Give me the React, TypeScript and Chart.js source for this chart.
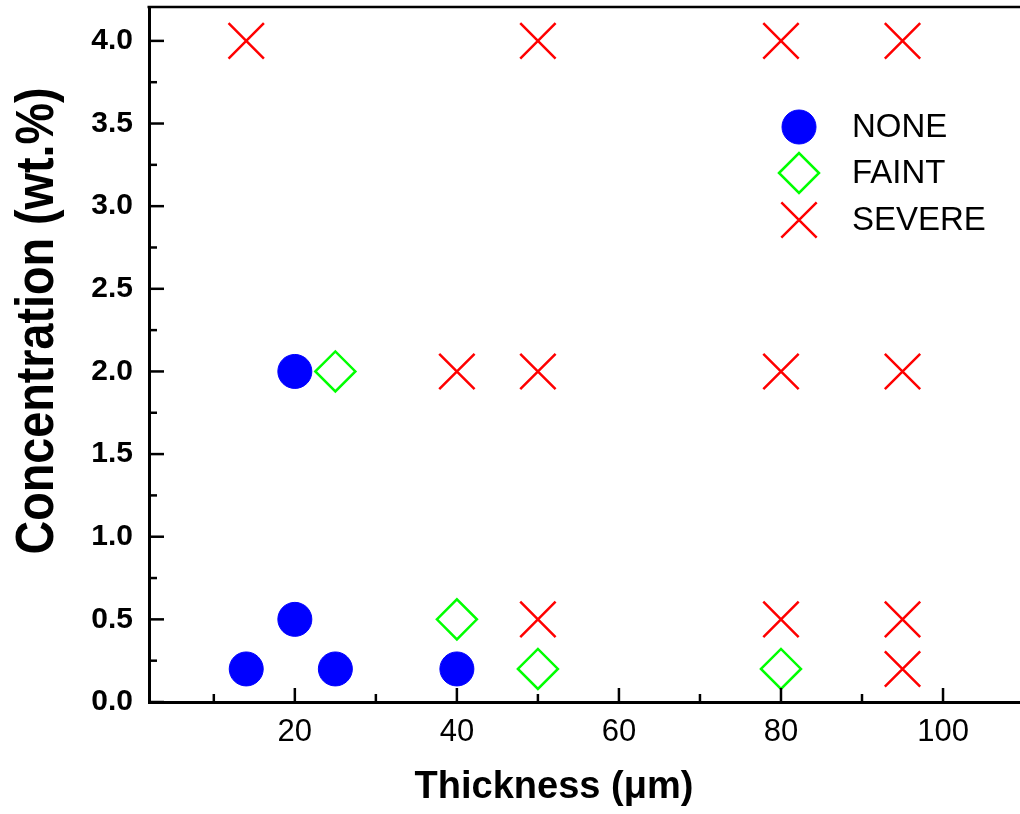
import React, { useEffect, useRef } from 'react';
import { Chart, registerables } from 'chart.js';
import { drawPoint } from 'chart.js/helpers';

Chart.register(...registerables);

// ---- data ----
const seriesNames = ['NONE', 'FAINT', 'SEVERE'];
const noneX = [14, 20, 25, 40, 20];
const noneY = [0.2, 0.5, 0.2, 0.2, 2.0];
const faintX = [25, 40, 50, 80];
const faintY = [2.0, 0.5, 0.2, 0.2];
const severeX = [14, 50, 80, 95, 40, 50, 80, 95, 50, 80, 95, 95];
const severeY = [4.0, 4.0, 4.0, 4.0, 2.0, 2.0, 2.0, 2.0, 0.5, 0.5, 0.5, 0.2];
const xTickLabels = [20, 40, 60, 80, 100];
const yTickLabels = [0, 0.5, 1.0, 1.5, 2.0, 2.5, 3.0, 3.5, 4.0];
const xTitle = 'Thickness (\u03bcm)';
const yTitle = 'Concentration (wt.%)';

const FONT = '"Liberation Sans", Arial, sans-serif';

const zip = (xs: number[], ys: number[]) => xs.map((x, i) => ({ x, y: ys[i] }));
const near = (v: number, list: number[]) => list.some((l) => Math.abs(l - v) < 1e-6);

const decorPlugin = {
  id: 'decor',
  afterDraw(chart: any) {
    const ctx = chart.ctx as CanvasRenderingContext2D;
    const { left, right, top, bottom } = chart.chartArea;
    const xs = chart.scales.x;
    const ys = chart.scales.y;
    ctx.save();
    ctx.strokeStyle = '#000';
    ctx.lineWidth = 2.5;
    // top border
    ctx.beginPath();
    ctx.moveTo(left - 1.5, top);
    ctx.lineTo(right, top);
    ctx.stroke();
    // inward tick marks
    ctx.lineWidth = 2.5;
    xs.ticks.forEach((t: any) => {
      const px = xs.getPixelForValue(t.value);
      const len = near(t.value, xTickLabels) ? 14 : 8;
      ctx.beginPath();
      ctx.moveTo(px, bottom);
      ctx.lineTo(px, bottom - len);
      ctx.stroke();
    });
    ys.ticks.forEach((t: any) => {
      const py = ys.getPixelForValue(t.value);
      const len = near(t.value, yTickLabels) ? 15 : 8;
      ctx.beginPath();
      ctx.moveTo(left, py);
      ctx.lineTo(left + len, py);
      ctx.stroke();
    });
    // axis titles
    ctx.fillStyle = '#000';
    ctx.font = `bold 38px ${FONT}`;
    ctx.textAlign = 'center';
    ctx.textBaseline = 'alphabetic';
    ctx.fillText(xTitle, 554, 798);

    ctx.font = `bold 54px ${FONT}`;
    const w = ctx.measureText(yTitle).width;
    const sx = 467 / w;
    ctx.save();
    ctx.translate(53, 321);
    ctx.rotate(-Math.PI / 2);
    ctx.scale(sx, 1);
    ctx.fillText(yTitle, 0, 0);
    ctx.restore();

    // legend
    const rows = [127, 173, 220];
    chart.data.datasets.forEach((ds: any, i: number) => {
      const y = rows[i];
      ctx.save();
      ctx.fillStyle = ds.backgroundColor;
      ctx.strokeStyle = ds.borderColor;
      ctx.lineWidth = ds.borderWidth;
      drawPoint(ctx, { pointStyle: ds.pointStyle, radius: ds.pointRadius, rotation: 0, borderWidth: ds.borderWidth } as any, 799, y);
      ctx.restore();
      ctx.fillStyle = '#000';
      ctx.font = `33px ${FONT}`;
      ctx.textAlign = 'left';
      ctx.textBaseline = 'middle';
      ctx.fillText(ds.label, 852, y + 1);
    });
    ctx.restore();
  },
};

export default function App() {
  const ref = useRef<HTMLCanvasElement | null>(null);
  useEffect(() => {
    if (!ref.current) return;
    const chart = new Chart(ref.current, {
      type: 'scatter',
      data: {
        datasets: [
          {
            label: seriesNames[0],
            data: zip(noneX, noneY),
            pointStyle: 'circle',
            pointRadius: 17,
            backgroundColor: '#0000ff',
            borderColor: '#0000ff',
            borderWidth: 1,
          },
          {
            label: seriesNames[1],
            data: zip(faintX, faintY),
            pointStyle: 'rectRot',
            pointRadius: 20,
            backgroundColor: 'rgba(0,0,0,0)',
            borderColor: '#00ff00',
            borderWidth: 2.5,
          },
          {
            label: seriesNames[2],
            data: zip(severeX, severeY),
            pointStyle: 'crossRot',
            pointRadius: 25,
            backgroundColor: '#ff0000',
            borderColor: '#ff0000',
            borderWidth: 2.5,
          },
        ],
      },
      options: {
        responsive: false,
        animation: false,
        layout: { autoPadding: false, padding: { top: 7, left: 0, right: 0, bottom: 0 } },
        plugins: { legend: { display: false }, tooltip: { enabled: false } },
        scales: {
          x: {
            type: 'linear',
            min: 2,
            max: 109.5,
            grid: { display: false, drawTicks: false },
            border: { display: true, color: '#000', width: 3 },
            ticks: {
              stepSize: 10,
              includeBounds: false,
              autoSkip: false,
              maxRotation: 0,
              padding: 12,
              color: '#000',
              font: { family: FONT, size: 31 },
              callback: (v: any) => (near(Number(v), xTickLabels) ? String(v) : ''),
            },
            afterFit: (s: any) => {
              s.height = 112;
              s.paddingLeft = 0;
              s.paddingRight = 0;
            },
          },
          y: {
            type: 'linear',
            min: 0,
            max: 4.205,
            grid: { display: false, drawTicks: false },
            border: { display: true, color: '#000', width: 3 },
            ticks: {
              stepSize: 0.25,
              includeBounds: false,
              autoSkip: false,
              padding: 16,
              color: '#000',
              font: { family: FONT, size: 30, weight: 'bold' },
              callback: (v: any) => (near(Number(v), yTickLabels) ? Number(v).toFixed(1) : ''),
            },
            afterFit: (s: any) => {
              s.width = 149;
              s.paddingTop = 0;
              s.paddingBottom = 0;
            },
          },
        },
      },
      plugins: [decorPlugin],
    });
    return () => chart.destroy();
  }, []);
  return (
    <div style={{ position: 'absolute', left: 0, top: 0, width: 1020, height: 814, background: '#fff' }}>
      <canvas ref={ref} width={1020} height={814} style={{ display: 'block' }} />
    </div>
  );
}
